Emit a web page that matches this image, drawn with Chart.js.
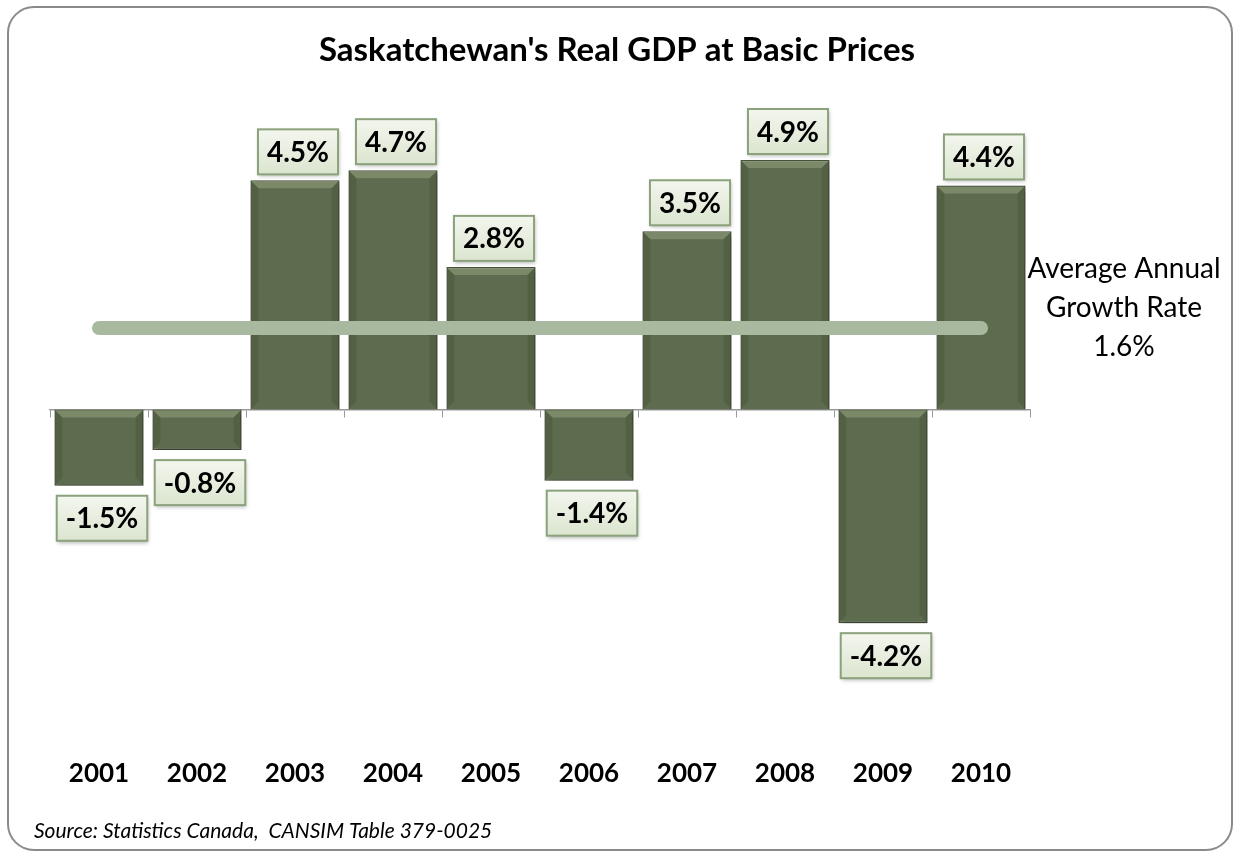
<!DOCTYPE html>
<html>
<head>
<meta charset="utf-8">
<script src="https://cdn.jsdelivr.net/npm/chart.js@4.4.0/dist/chart.umd.min.js"></script>
<style>
  body { margin: 0; background: #ffffff; }
  canvas { display: block; }
</style>
</head>
<body>
<canvas id="gdpChart" width="1235" height="852"></canvas>
<script>
// data
const years = ['2001', '2002', '2003', '2004', '2005', '2006', '2007', '2008', '2009', '2010'];
const growth = [-1.5, -0.8, 4.5, 4.7, 2.8, -1.4, 3.5, 4.9, -4.2, 4.4];
const avgRate = 1.6;
const avgLabel = ['Average Annual', 'Growth Rate', '1.6%'];
const titleText = "Saskatchewan's Real GDP at Basic Prices";
const sourceText = 'Source: Statistics Canada,  CANSIM Table 379-0025';

const FONT = 'Lato, "Open Sans", sans-serif';

// frame, title, source note and the average label
const decorations = {
    id: 'decorations',
    beforeDraw(chart) {
        const ctx = chart.ctx;
        ctx.save();
        ctx.fillStyle = '#ffffff';
        ctx.fillRect(0, 0, chart.width, chart.height);
        ctx.beginPath();
        ctx.roundRect(8, 7, 1224, 843, 26);
        ctx.lineWidth = 2;
        ctx.strokeStyle = '#8a8a8a';
        ctx.stroke();
        ctx.restore();
    },
    afterDraw(chart) {
        const ctx = chart.ctx;
        ctx.save();
        ctx.fillStyle = '#000';
        ctx.textAlign = 'center';
        ctx.textBaseline = 'middle';
        ctx.font = 'bold 33px ' + FONT;
        ctx.fillText(titleText, 617, 50);

        ctx.font = '28px ' + FONT;
        const y = chart.scales.y;
        const mid = y.getPixelForValue(avgRate);
        avgLabel.forEach(function(line, i) {
            ctx.fillText(line, 1124, mid - 59 + i * 39);
        });

        ctx.textAlign = 'left';
        ctx.font = 'italic 21px ' + FONT;
        ctx.fillText(sourceText, 34, 831);
        ctx.restore();
    }
};

// shadow + bevel on the bars
const barStyle = {
    id: 'barStyle',
    beforeDatasetDraw(chart, args) {
        if (args.index !== 0) return;
        const ctx = chart.ctx;
        ctx.save();
        ctx.shadowColor = 'rgba(0,0,0,0.35)';
        ctx.shadowBlur = 5;
        ctx.shadowOffsetX = 2;
        ctx.shadowOffsetY = 2;
    },
    afterDatasetDraw(chart, args) {
        if (args.index !== 0) return;
        const ctx = chart.ctx;
        ctx.restore();
        ctx.save();
        chart.getDatasetMeta(0).data.forEach(function(bar) {
            const left = bar.x - bar.width / 2;
            const right = bar.x + bar.width / 2;
            const top = Math.min(bar.y, bar.base);
            const bottom = Math.max(bar.y, bar.base);
            const b = 8;
            // top bevel
            ctx.beginPath();
            ctx.moveTo(left + 1, top + 1);
            ctx.lineTo(right - 1, top + 1);
            ctx.lineTo(right - b, top + b);
            ctx.lineTo(left + b, top + b);
            ctx.closePath();
            ctx.fillStyle = 'rgba(160,175,140,0.45)';
            ctx.fill();
            // sides
            ctx.beginPath();
            ctx.moveTo(left + 1, top + 1);
            ctx.lineTo(left + b, top + b);
            ctx.lineTo(left + b, bottom - b);
            ctx.lineTo(left + 1, bottom - 1);
            ctx.closePath();
            ctx.moveTo(right - 1, top + 1);
            ctx.lineTo(right - b, top + b);
            ctx.lineTo(right - b, bottom - b);
            ctx.lineTo(right - 1, bottom - 1);
            ctx.closePath();
            ctx.fillStyle = 'rgba(40,50,30,0.18)';
            ctx.fill();
        });
        ctx.restore();
    }
};

// value boxes
const valueBoxes = {
    id: 'valueBoxes',
    afterDatasetsDraw(chart) {
        const ctx = chart.ctx;
        ctx.save();
        ctx.font = 'bold 28px ' + FONT;
        ctx.textAlign = 'center';
        ctx.textBaseline = 'middle';
        chart.getDatasetMeta(0).data.forEach(function(bar, i) {
            const v = growth[i];
            const text = v.toFixed(1) + '%';
            const w = ctx.measureText(text).width + 18;
            const h = 45;
            const x = bar.x + 3 - w / 2;
            const y = v >= 0 ? bar.y - 6 - h : bar.y + 10;
            ctx.save();
            ctx.shadowColor = 'rgba(0,0,0,0.3)';
            ctx.shadowBlur = 4;
            ctx.shadowOffsetX = 1;
            ctx.shadowOffsetY = 2;
            const g = ctx.createLinearGradient(0, y, 0, y + h);
            g.addColorStop(0, '#f3f6ee');
            g.addColorStop(1, '#dbe5cf');
            ctx.fillStyle = g;
            ctx.fillRect(x, y, w, h);
            ctx.restore();
            ctx.lineWidth = 2;
            ctx.strokeStyle = '#8ba27c';
            ctx.strokeRect(x, y, w, h);
            ctx.fillStyle = '#000';
            ctx.fillText(text, x + w / 2, y + h / 2 + 1);
        });
        ctx.restore();
    }
};

const ctx = document.getElementById('gdpChart');

const data = {
    labels: years,
    datasets: [
        {
            type: 'bar',
            label: 'Real GDP growth',
            data: growth,
            backgroundColor: '#5d6b4e',
            borderColor: '#48543c',
            borderWidth: 1.5,
            barPercentage: 0.91,
            categoryPercentage: 1,
            xAxisID: 'x',
            yAxisID: 'y',
            order: 1
        },
        {
            type: 'line',
            label: 'Average annual growth',
            data: years.map(function() { return avgRate; }),
            borderColor: '#a9b99f',
            borderWidth: 14,
            borderCapStyle: 'round',
            pointRadius: 0,
            fill: false,
            xAxisID: 'x',
            yAxisID: 'y',
            order: 0
        }
    ]
};

const config = {
    type: 'bar',
    data: data,
    options: {
        responsive: false,
        animation: false,
        layout: {
            padding: { left: 50, right: 205, top: 104, bottom: 20 }
        },
        plugins: {
            legend: { display: false },
            tooltip: { enabled: false },
            title: { display: false }
        },
        scales: {
            y: {
                display: false,
                min: -6,
                max: 6
            },
            x: {
                offset: true,
                grid: { display: false, drawTicks: false },
                border: { display: false },
                ticks: {
                    padding: 43,
                    color: '#000',
                    maxRotation: 0,
                    autoSkip: false,
                    font: { family: FONT, size: 26, weight: 'bold' }
                }
            },
            x2: {
                type: 'category',
                labels: years,
                position: { y: 0 },
                offset: true,
                grid: { offset: true, drawOnChartArea: false, tickLength: 7, color: '#999999' },
                border: { color: '#999999', width: 1.5 },
                ticks: { display: false }
            }
        }
    },
    plugins: [decorations, barStyle, valueBoxes]
};

const gdpChart = new Chart(ctx, config);
</script>
</body>
</html>
